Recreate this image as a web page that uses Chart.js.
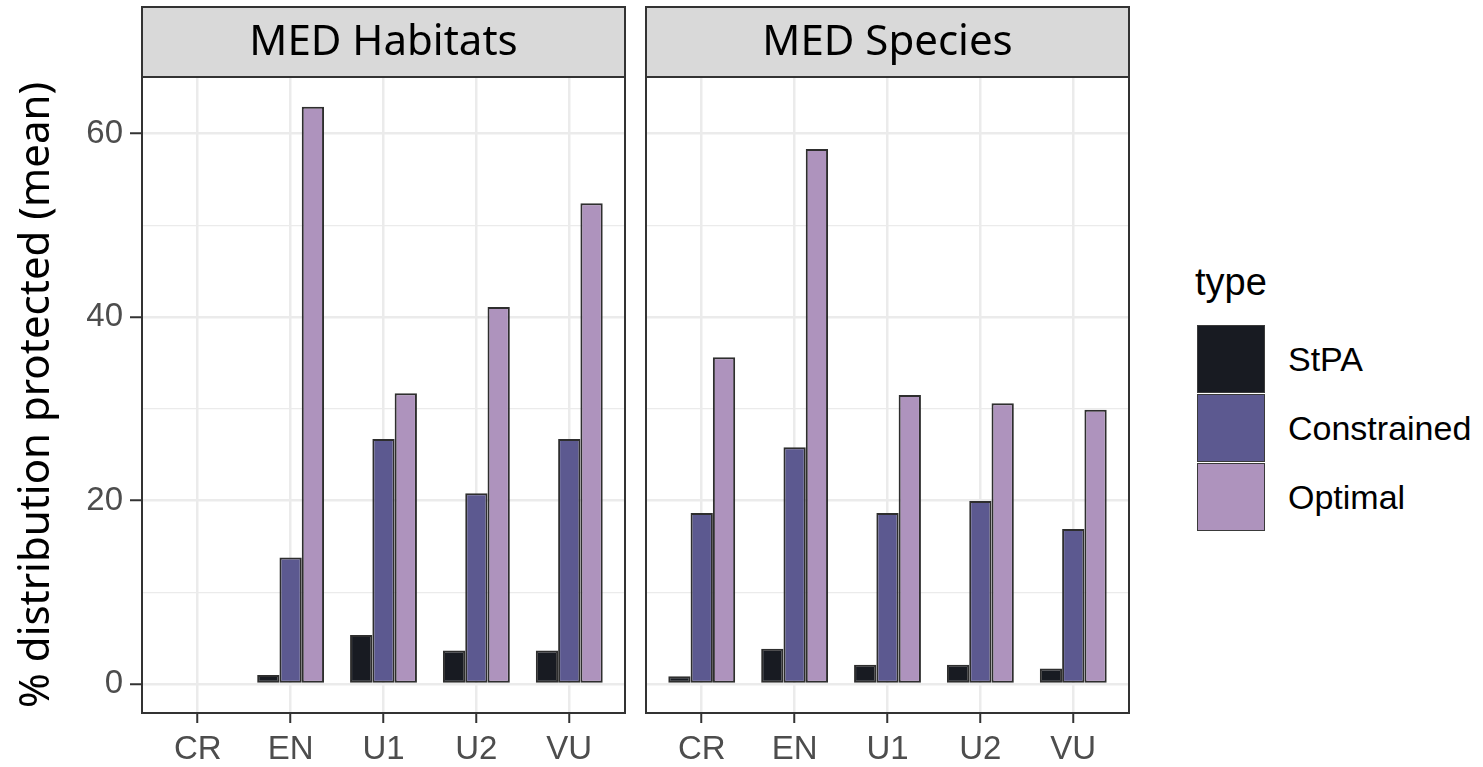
<!DOCTYPE html>
<html>
<head>
<meta charset="utf-8">
<script src="https://cdn.jsdelivr.net/npm/chart.js@4.4.1/dist/chart.umd.min.js"></script>
<style>
  html, body { margin: 0; padding: 0; background: #fff; }
  #wrap { position: relative; width: 1483px; height: 767px; overflow: hidden; }
  #c1 { position: absolute; left: 0; top: 0; }
  #c2 { position: absolute; left: 636px; top: 0; }
  #legend { position: absolute; left: 1195px; top: 0; font-family: "Liberation Sans", Arial, sans-serif; color: #000; }
  #legend .ttl { position: absolute; left: 0; top: 263px; font-size: 38px; line-height: 38px; white-space: nowrap; }
  #legend .key { position: absolute; left: 2px; width: 68px; height: 68px; box-sizing: border-box; border: 1.5px solid #3a3a3a; }
  #legend .lab { position: absolute; left: 93px; font-size: 34px; line-height: 68px; height: 68px; white-space: nowrap; }
</style>
</head>
<body>
<div id="wrap">
  <canvas id="c1" width="636" height="767"></canvas>
  <canvas id="c2" width="504" height="767"></canvas>
  <div id="legend"></div>
</div>
<script>
// data
const categories = ['CR', 'EN', 'U1', 'U2', 'VU'];
const seriesNames = ['StPA', 'Constrained', 'Optimal'];
const seriesColors = ['#181b22', '#5c5990', '#ae93bd'];
const panelTitles = ['MED Habitats', 'MED Species'];

const habStPA = [null, 1.0, 5.35, 3.65, 3.65];
const habConstrained = [null, 13.8, 26.7, 20.8, 26.7];
const habOptimal = [null, 62.9, 31.7, 41.1, 52.4];

const spStPA = [0.85, 3.85, 2.1, 2.1, 1.7];
const spConstrained = [18.65, 25.8, 18.65, 19.95, 16.9];
const spOptimal = [35.6, 58.3, 31.5, 30.6, 29.9];

const yGrid = [0, 10, 20, 30, 40, 50, 60];
const yTitle = '% distribution protected (mean)';

// facet strip + panel border, ggplot theme_bw style
const facetStrip = {
  id: 'facetStrip',
  afterDraw(chart, args, opts) {
    const { ctx, chartArea: a } = chart;
    ctx.save();
    ctx.fillStyle = '#d9d9d9';
    ctx.fillRect(a.left, opts.top, a.right - a.left, a.top - opts.top);
    ctx.strokeStyle = '#333333';
    ctx.lineWidth = 2;
    ctx.strokeRect(a.left, opts.top, a.right - a.left, a.top - opts.top);
    ctx.strokeRect(a.left, a.top, a.right - a.left, a.bottom - a.top);
    ctx.fillStyle = '#000';
    ctx.font = '42px "Noto Sans"';
    ctx.textAlign = 'center';
    ctx.textBaseline = 'middle';
    ctx.fillText(opts.text, (a.left + a.right) / 2, (opts.top + a.top) / 2 + 1);
    ctx.restore();
  }
};

function makeDatasets(values) {
  return values.map((vals, s) => ({
    label: seriesNames[s],
    data: vals.map((v, i) => ({ x: i + 1, y: v })),
    backgroundColor: seriesColors[s],
    borderColor: '#2e2e2e',
    borderWidth: 2,
    borderSkipped: false,
    categoryPercentage: 0.72,
    barPercentage: 1.0
  }));
}

function makeChart(id, values, title, first) {
  const ctx = document.getElementById(id).getContext('2d');
  return new Chart(ctx, {
    type: 'bar',
    data: { datasets: makeDatasets(values) },
    options: {
      responsive: false,
      animation: false,
      events: [],
      layout: { padding: { top: 77, right: 11, left: 0, bottom: 0 } },
      plugins: {
        legend: { display: false },
        tooltip: { enabled: false },
        facetStrip: { text: title, top: 7 }
      },
      scales: {
        x: {
          type: 'linear',
          min: 0.4,
          max: 5.6,
          offset: false,
          afterBuildTicks: s => { s.ticks = categories.map((c, i) => ({ value: i + 1 })); },
          afterFit: s => { s.height = 54; },
          ticks: {
            callback: v => categories[v - 1],
            color: '#4d4d4d',
            font: { family: 'Liberation Sans', size: 33 },
            padding: 7,
            maxRotation: 0,
            autoSkip: false
          },
          grid: { offset: false, color: '#ebebeb', lineWidth: 2.5, tickColor: '#333333', tickLength: 10, tickWidth: 2 },
          border: { display: false }
        },
        y: {
          min: -3.15,
          max: 66.15,
          afterBuildTicks: s => { s.ticks = yGrid.map(v => ({ value: v })); },
          afterFit: s => { s.width = first ? 142 : 10; },
          ticks: {
            display: first,
            callback: v => (v % 20 === 0 ? v : ''),
            color: '#4d4d4d',
            font: { family: 'Liberation Sans', size: 33 },
            padding: 7,
            autoSkip: false
          },
          grid: {
            color: '#ebebeb',
            lineWidth: c => (c.tick && c.tick.value % 20 ? 1.2 : 2.5),
            drawTicks: first,
            tickColor: c => (c.tick && c.tick.value % 20 ? 'rgba(0,0,0,0)' : '#333333'),
            tickLength: 12,
            tickWidth: 2
          },
          border: { display: false },
          title: {
            display: first,
            text: yTitle,
            color: '#000',
            font: { family: 'Noto Sans', size: 42, lineHeight: 1.2 },
            padding: { top: 12, bottom: 0 }
          }
        }
      }
    },
    plugins: [facetStrip]
  });
}

makeChart('c1', [habStPA, habConstrained, habOptimal], panelTitles[0], true);
makeChart('c2', [spStPA, spConstrained, spOptimal], panelTitles[1], false);

// legend
const legendEl = document.getElementById('legend');
const ttl = document.createElement('div');
ttl.className = 'ttl';
ttl.textContent = 'type';
legendEl.appendChild(ttl);
seriesNames.forEach((name, i) => {
  const top = 325 + i * 69;
  const key = document.createElement('div');
  key.className = 'key';
  key.style.top = top + 'px';
  key.style.background = seriesColors[i];
  legendEl.appendChild(key);
  const lab = document.createElement('div');
  lab.className = 'lab';
  lab.style.top = top + 'px';
  lab.textContent = name;
  legendEl.appendChild(lab);
});
</script>
</body>
</html>
